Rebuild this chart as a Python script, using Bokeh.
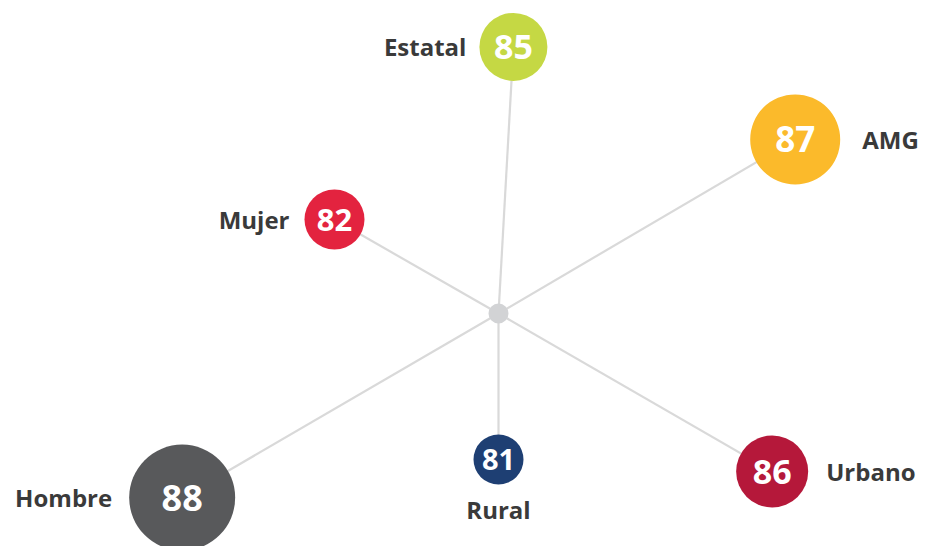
import math
from bokeh.plotting import figure
from bokeh.models import ColumnDataSource, Range1d
from bokeh.core.properties import value
from bokeh.embed import file_html
from bokeh.resources import INLINE

# ---- data ----
categories = ["Estatal", "AMG", "Mujer", "Hombre", "Rural", "Urbano"]
values = [85, 87, 82, 88, 81, 86]

# ---- layout / style ----
hub_x, hub_y = 498, 313
angles = [86.8, 30.4, 150.2, 210.2, 270.0, 330.0]
dists = [267, 344, 189, 366, 146, 316]
radii = [34, 45, 30, 53, 25, 36]
colors = ["#C5D844", "#FBBA2B", "#E3233F", "#58595B", "#1E3F73", "#B5183A"]
sides = ["left", "right", "left", "left", "below", "right"]
gaps = [13, 22, 15, 17, 25, 18]
num_sizes = ["34px", "35px", "31px", "36px", "29px", "34px"]

cx = [hub_x + d * math.cos(math.radians(a)) for a, d in zip(angles, dists)]
cy = [hub_y - d * math.sin(math.radians(a)) for a, d in zip(angles, dists)]

W, H = 925, 546
p = figure(width=W, height=H, output_backend="svg", toolbar_location=None,
           x_range=Range1d(0, W), y_range=Range1d(H, 0),
           min_border=0, outline_line_color=None, background_fill_color="white")
p.axis.visible = False
p.grid.visible = False

src = ColumnDataSource(dict(
    x=cx, y=cy, x0=[hub_x] * len(cx), y0=[hub_y] * len(cy),
    size=[2 * r for r in radii], color=colors,
    num=[str(v) for v in values], fs=num_sizes,
))

p.segment(x0="x0", y0="y0", x1="x", y1="y", source=src, line_color="#D9D9D9", line_width=2.2)
p.scatter(x=[hub_x], y=[hub_y], size=20, fill_color="#D2D3D5", line_color=None)
p.scatter(x="x", y="y", size="size", fill_color="color", line_color=None, source=src)
p.text(x="x", y="y", text="num", text_font_size="fs", text_color="white",
       text_font=value("Open Sans"), text_font_style="bold", text_align="center",
       text_baseline="middle", source=src)

lx, ly, la = [], [], []
for x, y, r, s, g in zip(cx, cy, radii, sides, gaps):
    if s == "left":
        lx.append(x - r - g); ly.append(y); la.append("right")
    elif s == "right":
        lx.append(x + r + g); ly.append(y); la.append("left")
    else:
        lx.append(x); ly.append(y + r + g); la.append("center")
lsrc = ColumnDataSource(dict(x=lx, y=ly, text=categories, align=la))
p.text(x="x", y="y", text="text", text_align="align", text_baseline="middle",
       text_font=value("Open Sans"), text_font_style="bold", text_font_size="24px",
       text_color="#3A3A3A", source=lsrc)

open("out.html", "w").write(file_html(p, INLINE))
